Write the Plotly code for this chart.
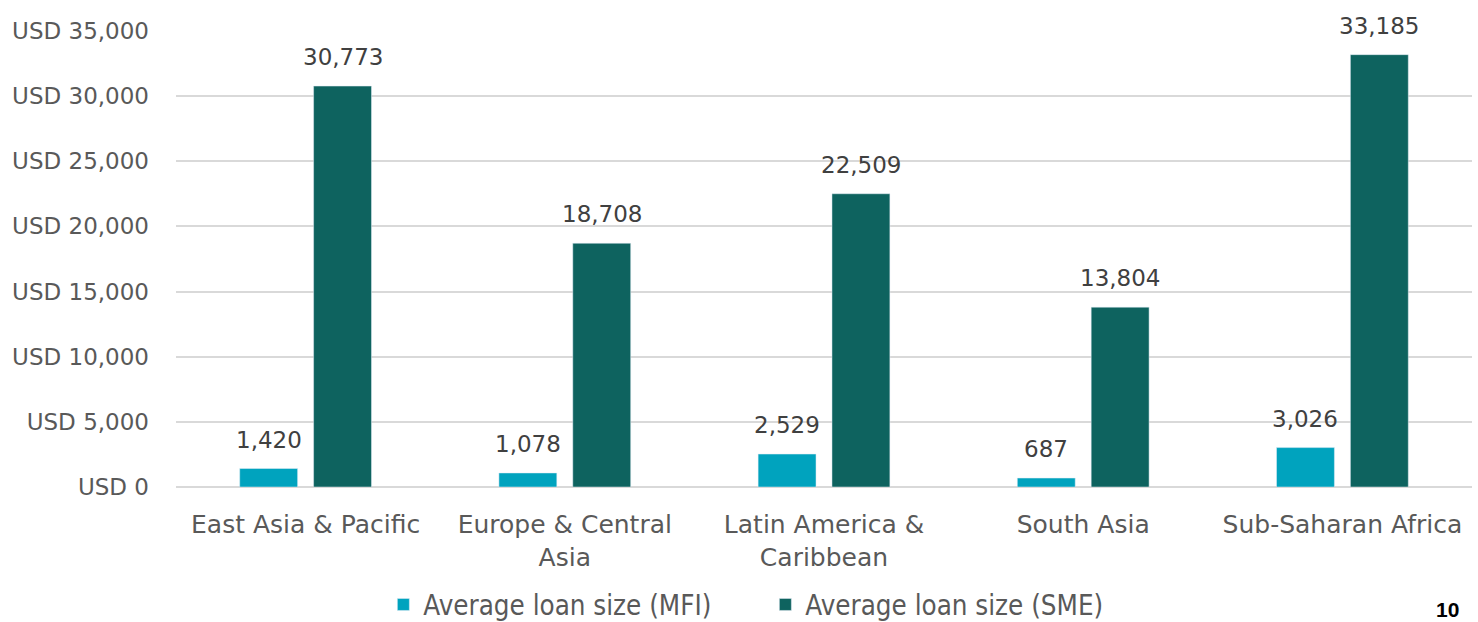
import plotly.graph_objects as go

categories = ["East Asia & Pacific", "Europe & Central<br>Asia", "Latin America &<br>Caribbean",
              "South Asia", "Sub-Saharan Africa"]
mfi = [1420, 1078, 2529, 687, 3026]
sme = [30773, 18708, 22509, 13804, 33185]
tick_vals = [0, 5000, 10000, 15000, 20000, 25000, 30000, 35000]
tick_text = ["USD 0", "USD 5,000", "USD 10,000", "USD 15,000", "USD 20,000",
             "USD 25,000", "USD 30,000", "USD 35,000"]

FONT = "DejaVu Sans"
fig = go.Figure()
fig.add_bar(x=categories, y=mfi, name="Average loan size (MFI)", marker_color="#00A3BE")
fig.add_bar(x=categories, y=sme, name="Average loan size (SME)", marker_color="#0E635F")

# data labels, lifted a bit above each bar
for series, shift in ((mfi, -37), (sme, 37)):
    for cat, v in zip(categories, series):
        fig.add_annotation(x=cat, y=v, xref="x", yref="y", text=f"{v:,}", showarrow=False,
                           xshift=shift, yshift=14, yanchor="bottom",
                           font=dict(family=FONT, size=23, color="#404040"))

fig.update_layout(
    width=1478, height=622,
    margin=dict(l=176, r=6, t=31, b=135, autoexpand=False),
    plot_bgcolor="white", paper_bgcolor="white",
    barmode="group", bargap=0.43, bargroupgap=0.216,
    font=dict(family=FONT, size=22, color="#595959"),
    showlegend=True,
    legend=dict(orientation="h", x=0.16, xanchor="left",
                yref="container", y=0.028, yanchor="middle",
                entrywidth=337, entrywidthmode="pixels",
                font=dict(family="DejaVu Sans Condensed", size=27.5, color="#595959"),
                itemwidth=30, traceorder="normal"),
)
fig.update_xaxes(showgrid=False, showline=False, ticks="", automargin=False,
                 ticklabelstandoff=20, tickfont=dict(size=25, color="#595959"))
fig.update_yaxes(range=[0, 35000], tickvals=tick_vals, ticktext=tick_text,
                 showgrid=True, gridcolor="#D9D9D9", gridwidth=1.5, automargin=False,
                 zeroline=True, zerolinecolor="#D9D9D9", zerolinewidth=1.5,
                 ticks="", ticklabelstandoff=26, tickfont=dict(size=23, color="#595959"))
fig.add_annotation(text="<b>10</b>", xref="paper", yref="paper", x=0.9915, xanchor="right",
                   y=-0.268, yanchor="middle", showarrow=False,
                   font=dict(family="Liberation Sans", size=21, color="#000000"))

fig.write_html("out.html")
